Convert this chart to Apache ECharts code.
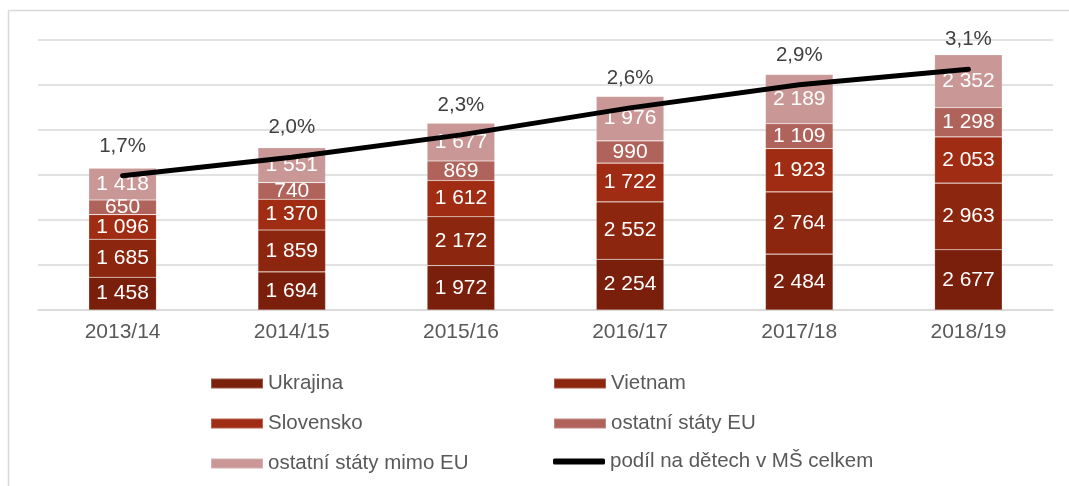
<!DOCTYPE html>
<html>
<head>
<meta charset="utf-8">
<script src="https://cdn.jsdelivr.net/npm/echarts@6/dist/echarts.min.js"></script>
<style>
html,body{margin:0;padding:0;background:#fff;}
#c{width:1069px;height:486px;}
</style>
</head>
<body>
<div id="c"></div>
<script>
var categories = ['2013/14','2014/15','2015/16','2016/17','2017/18','2018/19'];
var ukrajina = [1458,1694,1972,2254,2484,2677];
var vietnam = [1685,1859,2172,2552,2764,2963];
var slovensko = [1096,1370,1612,1722,1923,2053];
var ostatniEU = [650,740,869,990,1109,1298];
var mimoEU = [1418,1551,1677,1976,2189,2352];
var podil = [1.74,1.98,2.27,2.62,2.92,3.12];

var FONT = "'Liberation Sans', Arial, sans-serif";
function fmt(v){ return String(v).replace(/\B(?=(\d{3})+(?!\d))/g,' '); }

function barSeries(name, data, color){
  return {
    name: name, type: 'bar', stack: 'total', data: data, barWidth: '40%',
    itemStyle: {color: color, borderColor: 'rgba(255,255,255,0.25)', borderWidth: 0.6},
    label: {show: true, position: 'inside', color: '#fff', fontSize: 21, fontFamily: FONT,
      formatter: function(p){ return fmt(p.value); }},
    emphasis: {disabled: true}
  };
}

var legendText = {color: '#595959', fontSize: 20.5, fontFamily: FONT};

var chart = echarts.init(document.getElementById('c'), null, {renderer: 'canvas'});
chart.setOption({
  animation: false,
  backgroundColor: '#fff',
  textStyle: {fontFamily: FONT},
  grid: {left: 38, right: 16, top: 40, bottom: 176, containLabel: false},
  xAxis: {
    type: 'category', data: categories,
    axisLine: {show: true, lineStyle: {color: '#d9d9d9', width: 1.5}},
    axisTick: {show: false},
    axisLabel: {color: '#595959', fontSize: 21, fontFamily: FONT, margin: 12}
  },
  yAxis: [
    {type: 'value', min: 0, max: 12000, interval: 2000,
     axisLabel: {show: false}, axisLine: {show: false}, axisTick: {show: false},
     splitLine: {show: true, lineStyle: {color: '#d9d9d9', width: 1.5}}},
    {type: 'value', min: 0, max: 3.5, interval: 0.5,
     axisLabel: {show: false}, axisLine: {show: false}, axisTick: {show: false},
     splitLine: {show: false}}
  ],
  legend: [
    {orient: 'vertical', left: 210, top: 373, padding: 0, itemWidth: 52, itemHeight: 10, itemGap: 19,
     icon: 'rect', textStyle: legendText,
     data: ['Ukrajina','Slovensko','ostatní státy mimo EU'], selectedMode: false},
    {orient: 'vertical', left: 553, top: 373, padding: 0, itemWidth: 52, itemHeight: 10, itemGap: 19,
     icon: 'rect', textStyle: legendText,
     data: ['Vietnam','ostatní státy EU'], selectedMode: false},
    {orient: 'vertical', left: 553, top: 451, padding: 0, itemWidth: 52, itemHeight: 6,
     textStyle: legendText,
     data: [{name: 'podíl na dětech v MŠ celkem', icon: 'roundRect', itemStyle: {color: '#000', opacity: 1}}], selectedMode: false}
  ],
  graphic: [
    {type: 'line', shape: {x1: 8.5, y1: 10.5, x2: 1069, y2: 10.5}, style: {stroke: '#d9d9d9', lineWidth: 1.5}, silent: true},
    {type: 'line', shape: {x1: 8.5, y1: 10.5, x2: 8.5, y2: 486}, style: {stroke: '#d9d9d9', lineWidth: 1.5}, silent: true}
  ],
  series: [
    barSeries('Ukrajina', ukrajina, '#7a1f0b'),
    barSeries('Vietnam', vietnam, '#8c260e'),
    barSeries('Slovensko', slovensko, '#a02d13'),
    barSeries('ostatní státy EU', ostatniEU, '#b0635a'),
    barSeries('ostatní státy mimo EU', mimoEU, '#c99896'),
    {
      name: 'podíl na dětech v MŠ celkem', type: 'line', yAxisIndex: 1, data: podil,
      symbol: 'circle', symbolSize: 2, itemStyle: {color: '#000'},
      lineStyle: {color: '#000', width: 5, cap: 'round', join: 'round'},
      label: {show: true, position: 'top', distance: 18, color: '#404040', fontSize: 20.5, fontFamily: FONT,
        formatter: function(p){ return p.value.toFixed(1).replace('.', ',') + '%'; }},
      emphasis: {disabled: true}, z: 5
    }
  ]
});
</script>
</body>
</html>
